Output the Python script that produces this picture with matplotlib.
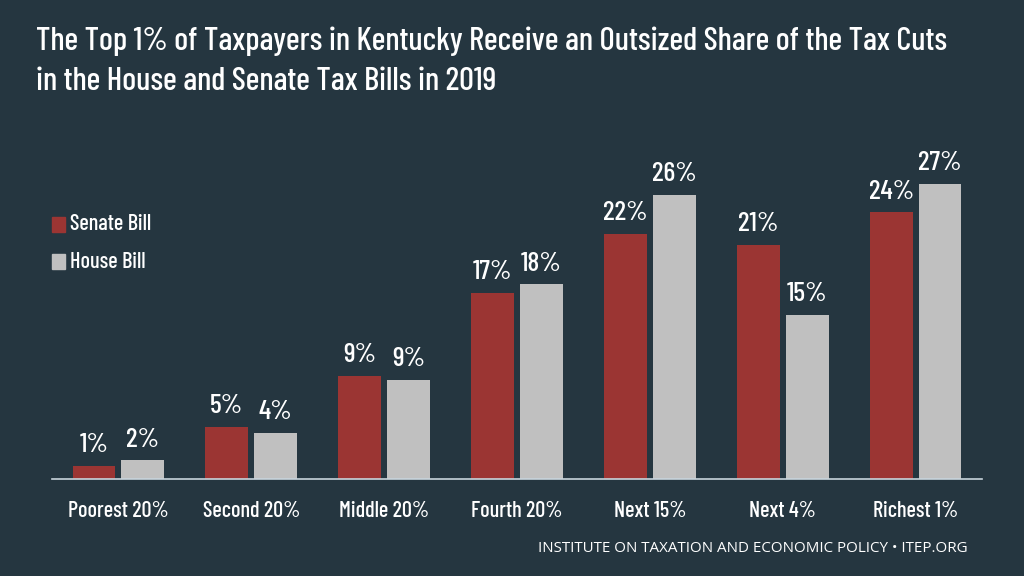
import matplotlib
matplotlib.use("Agg")
import matplotlib.pyplot as plt
from matplotlib.patches import Rectangle
import numpy as np

categories = ["Poorest 20%", "Second 20%", "Middle 20%", "Fourth 20%", "Next 15%", "Next 4%", "Richest 1%"]
senate = [1.2, 4.8, 9.4, 17.0, 22.4, 21.4, 24.4]
house = [1.7, 4.2, 9.1, 17.8, 26.0, 15.0, 27.0]
series_names = ["Senate Bill", "House Bill"]
title = ("The Top 1% of Taxpayers in Kentucky Receive an Outsized Share of the Tax Cuts\n"
         "in the House and Senate Tax Bills in 2019")
footer = "INSTITUTE ON TAXATION AND ECONOMIC POLICY \u2022 ITEP.ORG"

BG = "#253640"
RED = "#9B3533"
GREY = "#C0C0C0"
COND = ["Barlow Condensed", "Roboto Condensed", "DejaVu Sans"]
WT = "medium"

fig = plt.figure(figsize=(10.24, 5.76), dpi=100, facecolor=BG)
ax = fig.add_axes([52/1024, 1-479/576, 930/1024, 0.5694])
ax.set_facecolor(BG)

x = np.arange(len(categories))
w = 0.323
off = 0.184
b1 = ax.bar(x - off, senate, w, color=RED)
b2 = ax.bar(x + off, house, w, color=GREY)
for bars, vals in ((b1, senate), (b2, house)):
    for r, v in zip(bars, vals):
        ax.text(r.get_x() + r.get_width()/2, v + 0.8, f"{v:.0f}%", ha="center", va="bottom",
                color="white", fontsize=20, family=COND, fontweight=WT)

ax.set_xlim(-0.5, 6.5)
ax.set_ylim(0, 30)
for s in ["top", "right", "left"]:
    ax.spines[s].set_visible(False)
ax.spines["bottom"].set_color("#C8D4DC")
ax.spines["bottom"].set_linewidth(1.2)
ax.set_yticks([])
ax.set_xticks(x)
ax.set_xticklabels(categories, color="white", fontsize=16, family=COND, fontweight=WT)
ax.tick_params(axis="x", length=0, pad=16)

fig.patches.append(Rectangle((52/1024, 1-232/576), 13/1024, 15/576, transform=fig.transFigure, color=RED))
fig.patches.append(Rectangle((52/1024, 1-269/576), 13/1024, 15/576, transform=fig.transFigure, color=GREY))
fig.text(70/1024, 1-224/576, series_names[0], color="white", fontsize=16, family=COND, va="center", fontweight=WT)
fig.text(70/1024, 1-262/576, series_names[1], color="white", fontsize=16, family=COND, va="center", fontweight=WT)

fig.text(36/1024, 1-90/576, title, color="white", fontsize=23.6, family=COND, va="baseline", ha="left",
         linespacing=1.5, fontweight=WT)
fig.text(968/1024, 1-549/576, footer, color="white", fontsize=10.9, family=["Open Sans", "DejaVu Sans"],
         va="center", ha="right")

fig.savefig("out.png", dpi=100, facecolor=BG)
